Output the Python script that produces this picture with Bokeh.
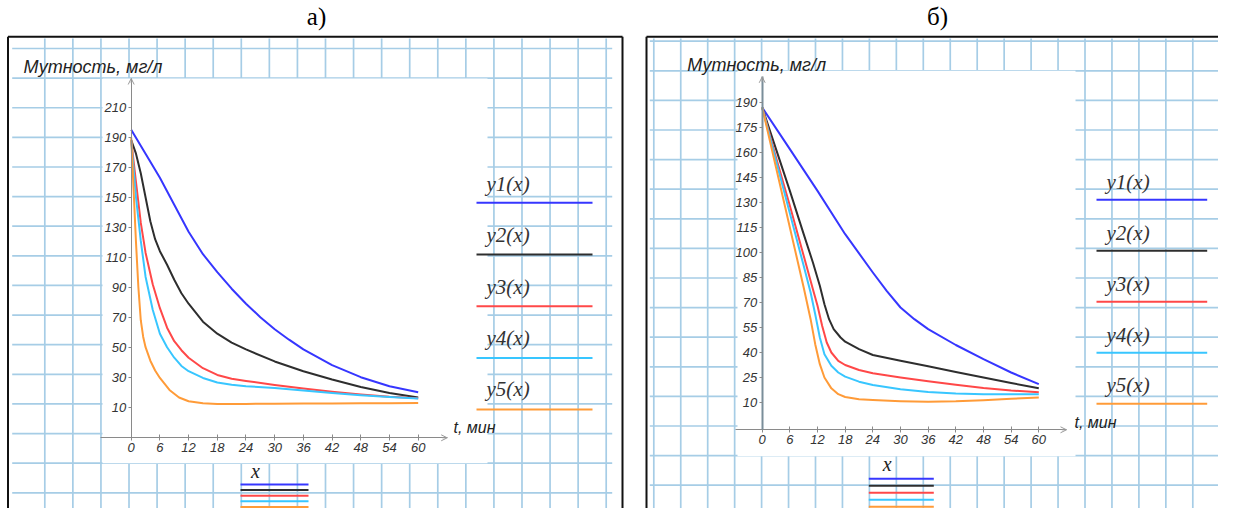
from bokeh.plotting import figure
from bokeh.models import Range1d, LinearAxis, FixedTicker, Label, Arrow, OpenHead
from bokeh.layouts import row
from bokeh.embed import file_html
from bokeh.resources import INLINE

# ---------------- data ----------------
series_names = ["y1(x)", "y2(x)", "y3(x)", "y4(x)", "y5(x)"]
series_colors = ["#3636ff", "#2e2e2e", "#ff4848", "#38c6ff", "#ff9b38"]

t_ticks = [0, 6, 12, 18, 24, 30, 36, 42, 48, 54, 60]
a_y_ticks = [10, 30, 50, 70, 90, 110, 130, 150, 170, 190, 210]
b_y_ticks = [10, 25, 40, 55, 70, 85, 100, 115, 130, 145, 160, 175, 190]

panel_titles = ["а)", "б)"]
y_title = "Мутность, мг/л"
x_title = "t, мин"
x_legend_title = "x"

# panel а
a_t1 = [0, 3, 6, 9, 12, 15, 18, 21, 24, 27, 30, 33, 36, 42, 48, 54, 60]
a_y1 = [195, 179, 163, 145, 127, 112, 100, 89, 79, 70, 62, 55, 48.5, 38, 30, 24, 20]
a_t2 = [0, 1, 2, 3, 4, 5, 6, 7.5, 9, 10.5, 12, 15, 18, 21, 24, 30, 36, 42, 48, 54, 60]
a_y2 = [188, 179, 166, 150, 134, 122, 114, 105, 95, 86, 79, 67, 59, 53, 48.5, 40.5, 34, 28.5, 23.5, 19.5, 16.5]
a_t3 = [0, 1, 2, 3, 4.5, 6, 7.5, 9, 10.5, 12, 15, 18, 21, 24, 30, 36, 42, 48, 54, 60]
a_y3 = [188, 160, 133, 113, 92, 76, 63, 54, 48, 43, 36, 31.5, 29, 27.5, 24.8, 22.5, 20.3, 18.5, 17, 16]
a_t4 = [0, 1, 2, 3, 4.5, 6, 7.5, 9, 10.5, 12, 15, 18, 21, 24, 30, 36, 42, 48, 54, 60]
a_y4 = [188, 150, 121, 97, 75, 59, 50, 43, 37.5, 34, 29.5, 26.5, 25, 24, 22.8, 21.2, 19.5, 18, 16.8, 15.8]
a_t5 = [0, 0.5, 1, 1.5, 2, 2.5, 3, 4, 5, 6, 8, 10, 12, 15, 18, 24, 30, 36, 42, 48, 54, 60]
a_y5 = [190, 155, 120, 90, 68, 57, 50, 41, 34.5, 29.5, 21.5, 16.5, 14, 12.6, 12.2, 12.2, 12.3, 12.4, 12.5, 12.6, 12.7, 12.8]

# panel б
b_t1 = [0, 6, 12, 18, 24, 27, 30, 33, 36, 42, 48, 54, 60]
b_y1 = [187, 162, 137, 111, 88, 77, 67, 60, 54, 44.5, 36, 28, 21]
b_t2 = [0, 3, 6, 9, 11, 12.5, 13.5, 14.5, 15.5, 17, 18, 21, 24, 30, 36, 42, 48, 54, 60]
b_y2 = [187, 162, 137, 111, 94, 80, 69, 60, 54, 49, 46.5, 42, 38.5, 35, 31.8, 28.3, 25, 21.7, 18.5]
b_t3 = [0, 3, 6, 9, 11, 12, 13, 14, 15, 16.5, 18, 21, 24, 30, 36, 42, 48, 54, 60]
b_y3 = [187, 157, 128, 98, 78, 68, 56, 46, 40, 35, 32.5, 29.5, 27.5, 25, 22.8, 20.7, 18.7, 17.2, 16.2]
b_t4 = [0, 3, 6, 9, 10.5, 11.5, 12.5, 13.5, 15, 16.5, 18, 21, 24, 30, 36, 42, 48, 54, 60]
b_y4 = [187, 155, 123.5, 92, 76, 63, 49, 39, 32, 28, 25.5, 22.5, 20.5, 18, 16.3, 15.4, 15, 15, 15]
b_t5 = [0, 3, 6, 9, 10.5, 11.5, 12.5, 13.5, 15, 16.5, 18, 21, 24, 30, 36, 42, 48, 54, 60]
b_y5 = [187, 151, 115, 79, 60, 45, 33, 25, 18.5, 15, 13.3, 12, 11.5, 10.8, 10.4, 10.7, 11.4, 12.2, 13]

a_series = [(a_t1, a_y1), (a_t2, a_y2), (a_t3, a_y3), (a_t4, a_y4), (a_t5, a_y5)]
b_series = [(b_t1, b_y1), (b_t2, b_y2), (b_t3, b_y3), (b_t4, b_y4), (b_t5, b_y5)]

# ---------------- layout (picture pixel anchors) ----------------
PAGE_TOP, PAGE_BOTTOM = 0, 508
PAPER = "#a6cde6"

layout_a = dict(
    X0=0, X1=634, x0_px=130.7, kx=4.783, v_ref=10, v_ref_px=406.7, ky=1.5,
    xaxis_px=437.3, xaxis_l=100, xaxis_r=446.7, yaxis_top=78, yaxis_w=1, yaxis_c="#8a8a8a",
    white=(102, 487, 78, 462.7), border=(7.5, 622, 36.3),
    vg0=44.3, vgs=28.07, vgn=21, hg0=48, hgs=29.62, hgn=17, hgx=(11.7, 611.7), vgy=(38, 508),
    title_xy=(316, 16), ytitle_xy=(23, 66.3), xtitle_xy=(453, 426.7),
    leg_lx=486, leg_ly0=183.3, leg_ls=51.4, leg_line=(476, 592), leg_y0=202.3, leg_s=51.7,
    mini_xy=(255, 470), mini_line=(240, 308), mini_y0=484, mini_s=5.6,
    yticks=a_y_ticks, series=a_series, title=panel_titles[0],
)
layout_b = dict(
    X0=634, X1=1218, x0_px=761.7, kx=4.61, v_ref=190, v_ref_px=102, ky=1.6667,
    xaxis_px=429.3, xaxis_l=735, xaxis_r=1066, yaxis_top=76.3, yaxis_w=2, yaxis_c="#7a8e9a",
    white=(737, 1075, 70.3, 455.7), border=(646, 1240, 36.3),
    vg0=653.3, vgs=26.95, vgn=22, hg0=40.7, hgs=29.6, hgn=17, hgx=(649.3, 1218), vgy=(38, 508),
    title_xy=(937, 16), ytitle_xy=(686.7, 64), xtitle_xy=(1074, 421.7),
    leg_lx=1106, leg_ly0=181.7, leg_ls=50.8, leg_line=(1096, 1206.7), leg_y0=199.3, leg_s=51.0,
    mini_xy=(886.7, 463.3), mini_line=(868.3, 933.3), mini_y0=478.3, mini_s=7.0,
    yticks=b_y_ticks, series=b_series, title=panel_titles[1],
)


def px_label(p, x, y, text, font, size, style="normal", align="left", color="#222222"):
    p.add_layout(Label(x=x, y=y, x_range_name="px", y_range_name="px", text=text,
                       text_font=font, text_font_size=size, text_font_style=style,
                       text_align=align, text_baseline="middle", text_color=color))


def build(L):
    X0, X1 = L["X0"], L["X1"]
    kx, ky = L["kx"], L["ky"]
    to_t = lambda X: (X - L["x0_px"]) / kx
    to_v = lambda Y: L["v_ref"] + (L["v_ref_px"] - Y) / ky
    p = figure(width=X1 - X0, height=PAGE_BOTTOM - PAGE_TOP, output_backend="svg",
               toolbar_location=None, x_axis_type=None, y_axis_type=None,
               x_range=Range1d(to_t(X0), to_t(X1)), y_range=Range1d(to_v(PAGE_BOTTOM), to_v(PAGE_TOP)),
               min_border=0, outline_line_color=None, background_fill_color="white",
               border_fill_color="white")
    p.extra_x_ranges = {"px": Range1d(X0, X1)}
    p.extra_y_ranges = {"px": Range1d(PAGE_BOTTOM, PAGE_TOP)}
    kw = dict(x_range_name="px", y_range_name="px")

    # graph paper
    vx = [L["vg0"] + i * L["vgs"] for i in range(L["vgn"])]
    p.segment(x0=vx, x1=vx, y0=[L["vgy"][0]] * len(vx), y1=[L["vgy"][1]] * len(vx),
              line_color=PAPER, line_width=1.7, **kw)
    hy = [L["hg0"] + i * L["hgs"] for i in range(L["hgn"])]
    p.segment(x0=[L["hgx"][0]] * len(hy), x1=[L["hgx"][1]] * len(hy), y0=hy, y1=hy,
              line_color=PAPER, line_width=1.7, **kw)
    # white plot area
    wl, wr, wt, wb = L["white"]
    p.quad(left=[wl], right=[wr], top=[wt], bottom=[wb], fill_color="white", line_color=None, **kw)
    # panel border
    bl, br, bt = L["border"]
    p.segment(x0=[bl, bl, br], x1=[br, bl, br], y0=[bt, bt, bt], y1=[bt, PAGE_BOTTOM + 5, PAGE_BOTTOM + 5],
              line_color="#111111", line_width=2, **kw)

    # curves
    for (t, y), c in zip(L["series"], series_colors):
        p.line(t, y, line_color=c, line_width=2, line_join="round")

    # axes
    xa_v = to_v(L["xaxis_px"])
    xa = LinearAxis(fixed_location=xa_v, bounds=(to_t(L["xaxis_l"]), to_t(L["xaxis_r"])),
                    ticker=FixedTicker(ticks=t_ticks))
    ya = LinearAxis(fixed_location=0, bounds=(xa_v, to_v(L["yaxis_top"])),
                    ticker=FixedTicker(ticks=L["yticks"]))
    for ax in (xa, ya):
        ax.axis_line_color = "#8a8a8a"
        ax.major_tick_line_color = "#8a8a8a"
        ax.minor_tick_line_color = None
        ax.major_label_text_font = "Liberation Sans"
        ax.major_label_text_font_style = "italic"
        ax.major_label_text_font_size = "13px"
        ax.major_label_text_color = "#333333"
    xa.major_tick_in = 3
    xa.major_tick_out = 3
    xa.major_label_standoff = 2
    ya.major_tick_in = 0
    ya.major_tick_out = 3
    ya.major_label_standoff = 2
    ya.axis_line_color = L["yaxis_c"]
    ya.axis_line_width = L["yaxis_w"]
    p.add_layout(xa, "below")
    p.add_layout(ya, "left")
    xr = to_t(L["xaxis_r"])
    p.add_layout(Arrow(end=OpenHead(size=6, line_color="#9a9a9a", line_width=1),
                       x_start=xr - 1, y_start=xa_v, x_end=xr, y_end=xa_v, line_color="#9a9a9a"))
    yt = to_v(L["yaxis_top"])
    p.add_layout(Arrow(end=OpenHead(size=6, line_color="#9a9a9a", line_width=1),
                       x_start=0, y_start=yt - 3, x_end=0, y_end=yt, line_color="#9a9a9a"))

    # texts
    px_label(p, *L["title_xy"], L["title"], "Liberation Serif", "25px", align="center", color="#000000")
    px_label(p, *L["ytitle_xy"], y_title, "Liberation Sans", "18px", style="italic")
    px_label(p, *L["xtitle_xy"], x_title, "Liberation Sans", "16px", style="italic")

    # right legend: label above a long line
    ll0, ll1 = L["leg_line"]
    for i, (name, c) in enumerate(zip(series_names, series_colors)):
        px_label(p, L["leg_lx"], L["leg_ly0"] + i * L["leg_ls"], name, "Liberation Serif", "21px",
                 style="italic", color="#333333")
        yy = L["leg_y0"] + i * L["leg_s"]
        p.segment(x0=[ll0], x1=[ll1], y0=[yy], y1=[yy], line_color=c, line_width=2, **kw)

    # small legend under the time axis
    px_label(p, *L["mini_xy"], x_legend_title, "Liberation Serif", "20px", style="italic",
             align="center", color="#222222")
    m0, m1 = L["mini_line"]
    for i, c in enumerate(series_colors):
        yy = L["mini_y0"] + i * L["mini_s"]
        p.segment(x0=[m0], x1=[m1], y0=[yy], y1=[yy], line_color=c, line_width=2, **kw)
    return p


pa = build(layout_a)
pb = build(layout_b)
layout = row(pa, pb)
open("out.html", "w").write(file_html(layout, INLINE))
